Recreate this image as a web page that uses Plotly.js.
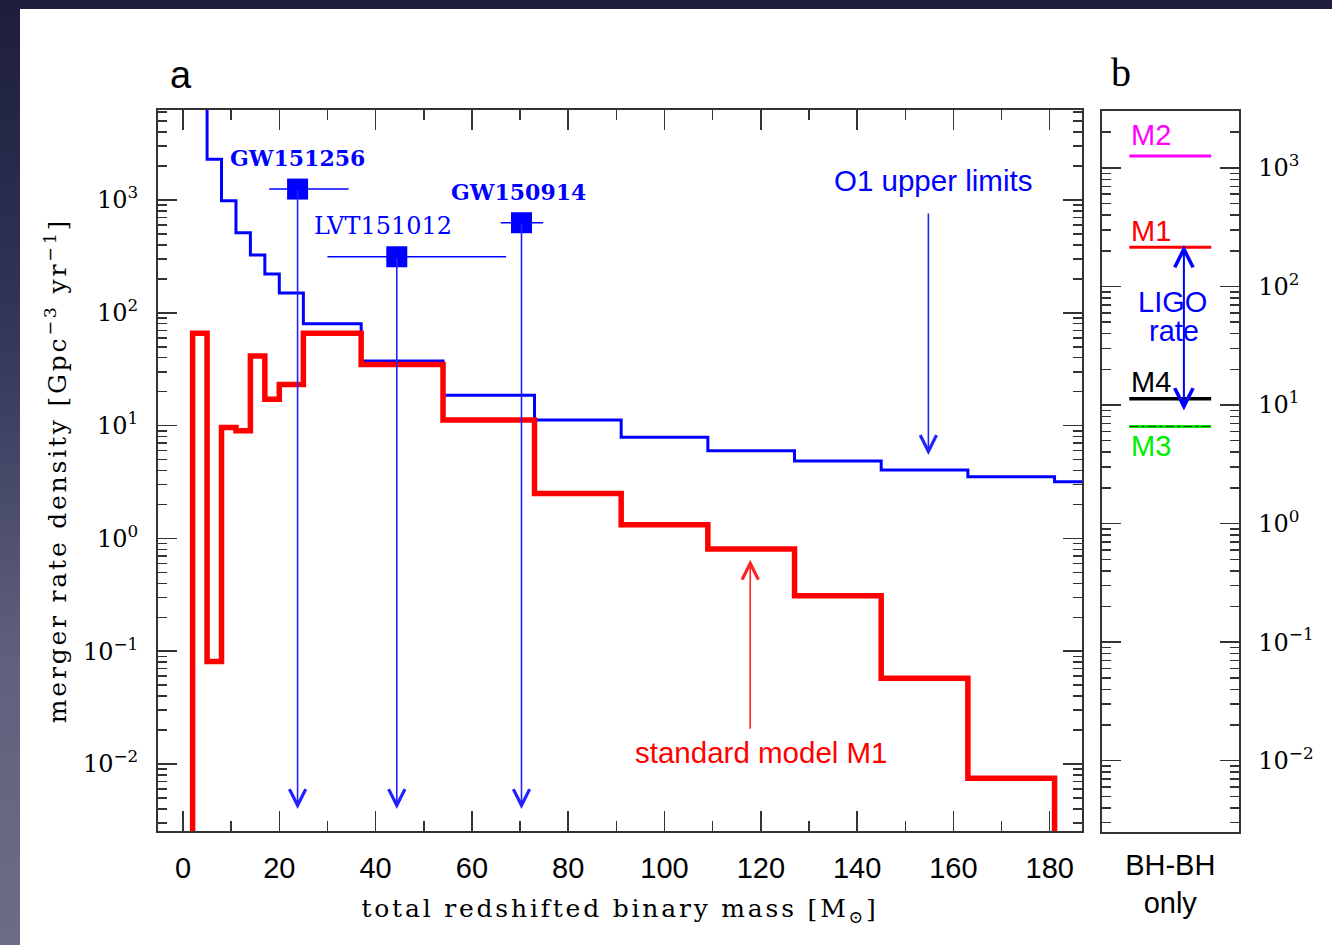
<!DOCTYPE html>
<html>
<head>
<meta charset="utf-8">
<script src="https://cdn.plot.ly/plotly-3.0.1.min.js"></script>
<style>
html,body{margin:0;padding:0;width:1332px;height:945px;overflow:hidden;}
body{position:relative;background:linear-gradient(to bottom,#1c1e3b 0%,#34365a 35%,#5f617c 70%,#6c6c86 100%);}
#card{position:absolute;left:20px;top:9px;width:1312px;height:936px;background:#ffffff;}
#chart{position:absolute;left:0;top:0;width:1332px;height:945px;}
#chart .xtitle, #chart .ytitle{letter-spacing:2.8px;}
</style>
</head>
<body>
<div id="card"></div>
<div id="chart"></div>
<script>
// ---------------- data ----------------
// standard model M1: bin edges (total mass, Msun) and merger rate density per bin
const m1Edges = [2, 5, 8, 11, 14, 17, 20, 25, 37, 54, 73, 91, 109, 127, 145, 163, 181];
const m1Rate  = [65.8, 0.081, 9.6, 9.0, 41.4, 17.1, 23.2, 65.8, 34.9, 11.2, 2.5, 1.32, 0.805, 0.31, 0.0575, 0.00746];
// O1 upper limits (first bin lies above the plotted range)
const o1Edges = [2, 5, 8, 11, 14, 17, 20, 25, 37, 54, 73, 91, 109, 127, 145, 163, 181, 200];
const o1Limit = [20000, 2300, 985, 513, 326, 221, 150, 80, 37.4, 18.6, 11.2, 7.9, 6.0, 4.85, 4.04, 3.52, 3.18];
// LIGO detections
const eventNames    = ['GW151256', 'LVT151012', 'GW150914'];
const eventMass     = [23.8, 44.4, 70.3];
const eventMassLow  = [17.9, 30.0, 66.0];
const eventMassHigh = [34.4, 67.1, 74.8];
const eventRate     = [1250, 314, 629];
// panel b: BH-BH rates of the models
const modelNames  = ['M2', 'M1', 'M4', 'M3'];
const modelRates  = [1260, 214, 11.3, 6.6];
const modelColors = ['#ff00ff', '#ff0000', '#000000', '#00ee00'];
const ligoRate    = [9, 230];
// axis ticks
const massTicks = [0, 20, 40, 60, 80, 100, 120, 140, 160, 180];
const rateTicks = [0.01, 0.1, 1, 10, 100, 1000];
const rateTickText = ['10<sup>−2</sup>', '10<sup>−1</sup>', '10<sup>0</sup>', '10<sup>1</sup>', '10<sup>2</sup>', '10<sup>3</sup>'];

// ---------------- helpers ----------------
const ZERO = 1e-5; // rate of zero, below the log axis
function steps(edges, vals, closeLeft, closeRight) {
  const x = [], y = [];
  if (closeLeft) { x.push(edges[0]); y.push(ZERO); }
  for (let i = 0; i < vals.length; i++) { x.push(edges[i]); y.push(vals[i]); }
  x.push(edges[vals.length]); y.push(vals[vals.length - 1]);
  if (closeRight) { x.push(edges[vals.length]); y.push(ZERO); }
  return {x, y};
}
const L = Math.log10;
const px = v => v / 1332, py = v => 1 - v / 945;

const redStep = steps(m1Edges, m1Rate, true, true);
const blueStep = steps(o1Edges, o1Limit, false, false);

const traces = [
  {x: blueStep.x, y: blueStep.y, xaxis: 'x', yaxis: 'y', mode: 'lines',
   line: {color: '#0000ff', width: 3, shape: 'hv'}, hoverinfo: 'skip'},
  {x: redStep.x, y: redStep.y, xaxis: 'x', yaxis: 'y', mode: 'lines',
   line: {color: '#ff0000', width: 5.5, shape: 'hv'}, hoverinfo: 'skip'},
  {x: eventMass, y: eventRate, xaxis: 'x', yaxis: 'y', mode: 'markers', text: eventNames,
   marker: {symbol: 'square', size: 21, color: '#0000ff'},
   error_x: {type: 'data', symmetric: false,
             array: eventMass.map((m, i) => eventMassHigh[i] - m),
             arrayminus: eventMass.map((m, i) => m - eventMassLow[i]),
             color: '#0000ff', thickness: 1.5, width: 0}}
];
modelNames.forEach((n, i) => {
  traces.push({x: [0.2, 0.8], y: [modelRates[i], modelRates[i]], xaxis: 'x2', yaxis: 'y2',
    mode: 'lines', name: n, line: {color: modelColors[i], width: i === 2 ? 3.5 : 3}, hoverinfo: 'skip'});
});
// thin dash-dot overlay on the M3 line
traces.push({x: [0.2, 0.8], y: [modelRates[3], modelRates[3]], xaxis: 'x2', yaxis: 'y2',
  mode: 'lines', line: {color: '#224422', width: 1, dash: 'dashdot'}, hoverinfo: 'skip'});

const frame = {showline: true, linecolor: '#333', linewidth: 2, mirror: 'allticks',
  ticks: 'inside', tickcolor: '#333', tickwidth: 1.5, showgrid: false, zeroline: false};
const logMinor = {dtick: 'D1', ticks: 'inside', ticklen: 9, tickcolor: '#333', tickwidth: 1.5, showgrid: false};
const serif = 'DejaVu Serif, Liberation Serif, serif';
const sans = 'Liberation Sans, Arial, sans-serif';

const annotations = [];
const arrowStyle = {text: '', showarrow: true, arrowhead: 5, arrowsize: 2.0, arrowwidth: 1.6};
// event arrows and labels
eventMass.forEach((m, i) => {
  annotations.push(Object.assign({xref: 'x', yref: 'y', axref: 'x', ayref: 'y', x: m, y: L(0.004), ax: m, ay: L(eventRate[i]),
    arrowcolor: '#2222ff'}, arrowStyle));
});
const labelPos = [[23.7, 3.372, true], [41.5, 2.77, false], [69.6, 3.07, true]];
eventNames.forEach((n, i) => {
  const p = labelPos[i];
  annotations.push({xref: 'x', yref: 'y', x: p[0], y: p[1], xanchor: 'center', yanchor: 'middle',
    text: p[2] ? '<b>' + n + '</b>' : n, showarrow: false,
    font: {family: serif, size: p[2] ? 22 : 24, color: '#0000ff'}});
});
annotations.push({xref: 'x', yref: 'y', x: 155.8, y: 3.177, xanchor: 'center', yanchor: 'middle',
  text: 'O1 upper limits', showarrow: false, font: {family: sans, size: 29.5, color: '#0000ff'}});
annotations.push(Object.assign({xref: 'x', yref: 'y', axref: 'x', ayref: 'y', x: 154.8, y: 0.74, ax: 154.8, ay: 2.894,
  arrowcolor: '#2222ff'}, arrowStyle));
annotations.push({xref: 'x', yref: 'y', x: 120.2, y: -1.90, xanchor: 'center', yanchor: 'middle',
  text: 'standard model M1', showarrow: false, font: {family: sans, size: 29.5, color: '#ff0000'}});
annotations.push(Object.assign({xref: 'x', yref: 'y', axref: 'x', ayref: 'y', x: 117.8, y: -0.19, ax: 117.8, ay: -1.70,
  arrowcolor: '#ff2222'}, arrowStyle));
// panel letters
annotations.push({xref: 'paper', yref: 'paper', x: px(181), y: py(75), xanchor: 'center', yanchor: 'middle',
  text: 'a', showarrow: false, font: {family: sans, size: 38, color: '#000'}});
annotations.push({xref: 'paper', yref: 'paper', x: px(1121), y: py(73), xanchor: 'center', yanchor: 'middle',
  text: 'b', showarrow: false, font: {family: 'Liberation Serif, serif', size: 40, color: '#000'}});
// panel b labels
const modelLabelY = [135, 231, 382, 446];
modelNames.forEach((n, i) => {
  annotations.push({xref: 'paper', yref: 'paper', x: px(1129), y: py(modelLabelY[i]), xanchor: 'left', yanchor: 'middle',
    text: n, showarrow: false, font: {family: sans, size: 29, color: modelColors[i]}});
});
annotations.push({xref: 'paper', yref: 'paper', x: px(1172), y: py(302), xanchor: 'center', yanchor: 'middle',
  text: 'LIGO', showarrow: false, font: {family: sans, size: 29, color: '#0000ff'}});
annotations.push({xref: 'paper', yref: 'paper', x: px(1174), y: py(331), xanchor: 'center', yanchor: 'middle',
  text: 'rate', showarrow: false, font: {family: sans, size: 29, color: '#0000ff'}});
annotations.push({xref: 'x2', yref: 'y2', axref: 'x2', ayref: 'y2', x: 0.6, y: L(ligoRate[0]), ax: 0.6, ay: L(ligoRate[1]),
  text: '', showarrow: true, arrowside: 'end+start', arrowhead: 5, startarrowhead: 5, arrowsize: 1.8, startarrowsize: 1.8,
  arrowwidth: 2, arrowcolor: '#0000ff'});

const layout = {
  width: 1332, height: 945,
  margin: {l: 0, r: 0, t: 0, b: 0},
  paper_bgcolor: 'rgba(0,0,0,0)', plot_bgcolor: '#ffffff',
  showlegend: false,
  xaxis: Object.assign({}, frame, {
    domain: [158 / 1332, 1082 / 1332], range: [-5.19, 186.7], anchor: 'y',
    tickvals: massTicks, ticklen: 20,
    minor: {dtick: 10, tick0: 0, ticks: 'inside', ticklen: 10, tickcolor: '#333', tickwidth: 1.5, showgrid: false},
    tickfont: {family: sans, size: 29, color: '#000'}, ticklabelstandoff: 10,
    title: {text: 'total redshifted binary mass [M<sub>⊙</sub>]', font: {family: serif, size: 25, color: '#000'}, standoff: 17}
  }),
  yaxis: Object.assign({}, frame, {
    type: 'log', domain: [1 - 831 / 945, 1 - 110 / 945], range: [-2.594, 3.798], anchor: 'x',
    tickvals: rateTicks, ticktext: rateTickText, ticklen: 19, minor: logMinor,
    tickfont: {family: serif, size: 24, color: '#000'}, ticklabelstandoff: 13,
    title: {text: 'merger rate density [Gpc<sup>−3</sup> yr<sup>−1</sup>]', font: {family: serif, size: 25, color: '#000'}, standoff: 9}
  }),
  xaxis2: {domain: [1102 / 1332, 1238.5 / 1332], range: [0, 1], anchor: 'y2',
    showline: true, linecolor: '#333', linewidth: 2, mirror: true, ticks: '', showticklabels: false,
    showgrid: false, zeroline: false,
    title: {text: 'BH-BH<br>only', font: {family: sans, size: 29, color: '#000'}, standoff: 22}},
  yaxis2: Object.assign({}, frame, {
    type: 'log', domain: [1 - 831.5 / 945, 1 - 111 / 945], range: [-2.597, 3.48], anchor: 'x2', side: 'right',
    tickvals: rateTicks, ticktext: rateTickText, ticklen: 19, minor: logMinor,
    tickfont: {family: serif, size: 24, color: '#000'}, ticklabelstandoff: 13
  }),
  annotations: annotations
};

Plotly.newPlot('chart', traces, layout, {displayModeBar: false, staticPlot: true});
</script>
</body>
</html>
